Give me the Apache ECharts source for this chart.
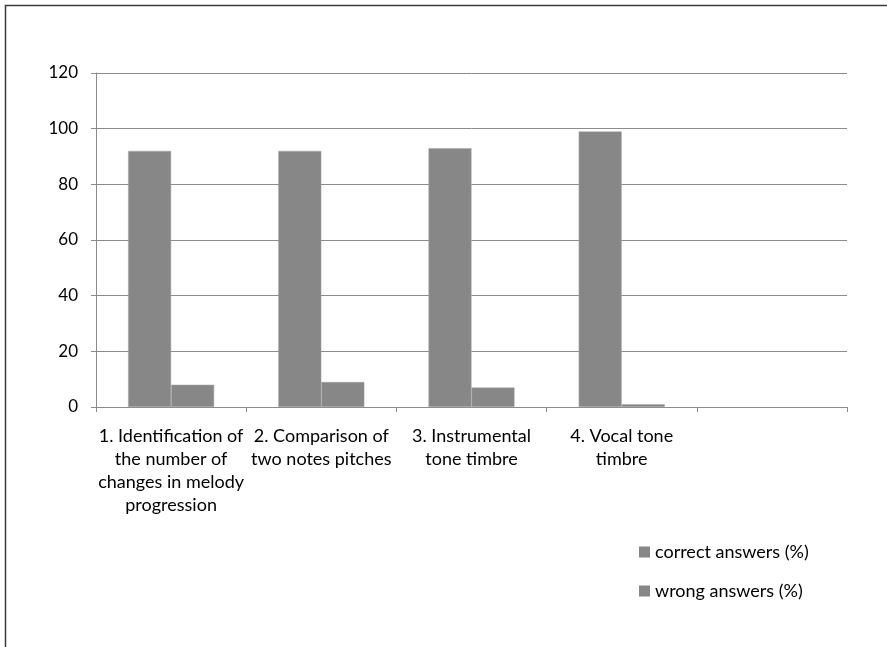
<!DOCTYPE html>
<html>
<head>
<meta charset="utf-8">
<script src="https://cdn.jsdelivr.net/npm/echarts@6/dist/echarts.min.js"></script>
<style>
html,body{margin:0;padding:0;background:#fff;}
#c{width:887px;height:647px;}
</style>
</head>
<body>
<div id="c"></div>
<script>
const categories = [
  "1. Identification of\nthe number of\nchanges in melody\nprogression",
  "2. Comparison of\ntwo notes pitches",
  "3. Instrumental\ntone timbre",
  "4. Vocal tone\ntimbre",
  ""
];
const seriesNames = ["correct answers (%)", "wrong answers (%)"];
const correctValues = [92, 92, 93, 99, null];
const wrongValues = [8, 9, 7, 1, null];
const yTicks = [0, 20, 40, 60, 80, 100, 120];

const chart = echarts.init(document.getElementById('c'), null, {renderer: 'canvas'});
const FONT = 'Lato';
const axisGray = '#8c8c8c';
const barColor = '#878787';

chart.setOption({
  animation: false,
  backgroundColor: '#fff',
  textStyle: {fontFamily: FONT, color: '#000'},
  grid: {left: 96, right: 40, top: 73, bottom: 240, containLabel: false},
  legend: {
    orient: 'vertical',
    left: 634,
    top: 538,
    itemWidth: 11,
    itemHeight: 11,
    itemGap: 21,
    icon: 'rect',
    data: seriesNames,
    itemStyle: {borderWidth: 0},
    textStyle: {fontFamily: FONT, fontSize: 18, color: '#000'}
  },
  xAxis: {
    type: 'category',
    data: categories,
    axisLine: {lineStyle: {color: axisGray, width: 1}},
    axisTick: {show: true, interval: 0, length: 5, alignWithLabel: false, lineStyle: {color: axisGray}},
    axisLabel: {interval: 0, margin: 18, fontFamily: FONT, fontSize: 18, color: '#000', lineHeight: 23, align: 'center'},
    splitLine: {show: false}
  },
  yAxis: {
    type: 'value',
    min: yTicks[0],
    max: yTicks[yTicks.length - 1],
    interval: 20,
    axisLine: {show: true, lineStyle: {color: axisGray, width: 1}},
    axisTick: {show: true, length: 5, lineStyle: {color: axisGray}},
    axisLabel: {margin: 18, fontFamily: FONT, fontSize: 17, color: '#000'},
    splitLine: {show: true, lineStyle: {color: axisGray, width: 1}}
  },
  series: [
    {
      name: seriesNames[0], type: 'bar', data: correctValues,
      barWidth: 43, barGap: '0%',
      itemStyle: {color: barColor, borderColor: '#a6a6a6', borderWidth: 0.5}
    },
    {
      name: seriesNames[1], type: 'bar', data: wrongValues,
      barWidth: 43, barGap: '0%',
      itemStyle: {color: barColor, borderColor: '#a6a6a6', borderWidth: 0.5}
    }
  ],
  graphic: [{
    type: 'rect',
    shape: {x: 5.5, y: 5.5, width: 1000, height: 1000},
    style: {fill: null, stroke: '#3c3c3c', lineWidth: 1.5},
    silent: true
  }]
});
</script>
</body>
</html>
